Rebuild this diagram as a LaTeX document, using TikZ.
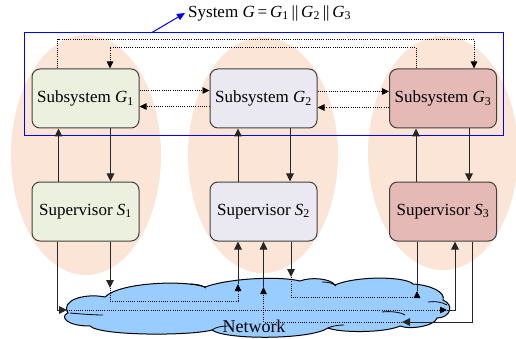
\documentclass[tikz,border=0pt]{standalone}
\usepackage{fontspec}
\setmainfont{Liberation Serif}
\usetikzlibrary{arrows.meta, positioning, calc}
\definecolor{peach}{RGB}{251,229,214}
\definecolor{subgreen}{RGB}{235,241,222}
\definecolor{sublilac}{RGB}{234,232,240}
\definecolor{subred}{RGB}{229,185,181}
\definecolor{netblue}{RGB}{153,204,255}
\definecolor{boxline}{RGB}{64,64,64}
\newcommand{\gsub}[2]{\textit{#1}\textsubscript{#2}}

\tikzset{
  subbox/.style={draw=boxline, line width=1pt, rounded corners=8pt, minimum width=107pt, minimum height=59pt, inner sep=1pt, font=\fontsize{17}{20}\selectfont},
  sigline/.style={line width=1pt, draw=black!85},
  sigarrow/.style={sigline, -{Triangle[length=8pt,width=7.5pt]}},
  dotline/.style={line width=0.8pt, dash pattern=on 1pt off 1.2pt},
  dotarrow/.style={dotline, -{Triangle[length=7pt,width=6.5pt]}},
}

\begin{document}
\begin{tikzpicture}[x=1pt, y=-1pt]
  \useasboundingbox (0,0) rectangle (516,339);

  % Groups
  \fill[peach] (86,155) ellipse [x radius=75pt, y radius=120pt];
  \fill[peach] (263,155) ellipse [x radius=75pt, y radius=118pt];
  \fill[peach] (443,153) ellipse [x radius=75pt, y radius=117pt];

  % System frame and title
  \node[draw=blue, line width=1pt, minimum width=479pt, minimum height=103pt, inner sep=0pt] (sys) at (263.5,84.5) {};
  \node[anchor=west, inner sep=3pt, font=\fontsize{17}{20}\selectfont] (title) at (185,13) {System \textit{G}\,=\,\gsub{G}{1}\,||\,\gsub{G}{2}\,||\,\gsub{G}{3}};
  \draw[blue, line width=1pt, -{Triangle[length=8pt,width=7pt]}] ([xshift=-111.5pt]sys.north) -- (title.west);

  % Network cloud
  \draw[line width=1pt, fill=netblue] (68,313) .. controls (60,300) and (85,293) .. (105,297)
    .. controls (120,282) and (185,280) .. (205,287)
    .. controls (230,278) and (280,276) .. (300,281)
    .. controls (310,277) and (330,278) .. (335,285)
    .. controls (355,276) and (405,276) .. (413,284)
    .. controls (430,285) and (446,292) .. (443,300)
    .. controls (455,305) and (450,318) .. (437,318)
    .. controls (435,326) and (410,330) .. (400,326)
    .. controls (385,333) and (340,333) .. (328,328)
    .. controls (310,340) and (225,340) .. (212,330)
    .. controls (190,336) and (100,336) .. (90,326)
    .. controls (65,326) and (60,316) .. (68,313) -- cycle;
  \draw[line width=0.8pt] (70,313) .. controls (80,314) and (95,315) .. (103,315);
  \draw[line width=0.8pt] (382,312) .. controls (390,311) and (400,312) .. (405,315);
  \draw[line width=0.8pt] (428,302) .. controls (435,301) and (442,302) .. (447,305);
  \draw[line width=0.8pt] (190,284) .. controls (196,284) and (202,285) .. (206,288);
  \draw[line width=0.8pt] (322,282) .. controls (328,282) and (333,283) .. (336,286);
  \draw[line width=0.8pt] (212,330) .. controls (216,327) and (222,326) .. (228,326);
  \draw[line width=0.8pt] (328,328) .. controls (332,326) and (338,325) .. (344,325);
  \node[font=\fontsize{18}{20}\selectfont] (net) at (254,326) {Network};

  % Subsystems
  \node[subbox, fill=subgreen] (g1) at (85.5,98.5) {Subsystem \gsub{G}{1}};
  \node[subbox, fill=sublilac] (g2) at (263.5,98.5) {Subsystem \gsub{G}{2}};
  \node[subbox, fill=subred] (g3) at (443,98.5) {Subsystem \gsub{G}{3}};

  % Supervisors
  \node[subbox, fill=subgreen] (s1) at (85.5,211.5) {Supervisor \gsub{S}{1}};
  \node[subbox, fill=sublilac] (s2) at (263.5,211.5) {Supervisor \gsub{S}{2}};
  \node[subbox, fill=subred] (s3) at (443,211.5) {Supervisor \gsub{S}{3}};

  % Plant <-> supervisor
  \draw[sigarrow] ([xshift=-27pt]s1.north) -- ([xshift=-27pt]g1.south);
  \draw[sigarrow] ([xshift=25pt]g1.south) -- ([xshift=25pt]s1.north);
  \draw[sigarrow] ([xshift=-25.5pt]s2.north) -- ([xshift=-25.5pt]g2.south);
  \draw[sigarrow] ([xshift=26.5pt]g2.south) -- ([xshift=26.5pt]s2.north);
  \draw[sigarrow] ([xshift=-27pt]s3.north) -- ([xshift=-27pt]g3.south);
  \draw[sigarrow] ([xshift=26pt]g3.south) -- ([xshift=26pt]s3.north);

  % Coupling between subsystems
  \draw[dotarrow] ([yshift=8pt]g1.east) -- ([yshift=8pt]g2.west);
  \draw[dotarrow] ([yshift=-8pt]g2.west) -- ([yshift=-8pt]g1.east);
  \draw[dotarrow] ([yshift=7pt]g2.east) -- ([yshift=7pt]g3.west);
  \draw[dotarrow] ([yshift=-9pt]g3.west) -- ([yshift=-9pt]g2.east);
  \draw[dotarrow] ([xshift=-28pt]g1.north) -- ++(0,-29) -| ([xshift=31pt]g3.north);
  \draw[dotarrow] ([xshift=-27pt]g3.north) -- ++(0,-21) -| ([xshift=24.5pt]g1.north);

  % Supervisor messages over the network
  \coordinate (in13) at (67,310);
  \coordinate (out13) at (447,310);
  \draw[sigarrow] ([xshift=-28pt]s1.south) |- (in13);
  \draw[dotarrow] (in13) -- (out13);
  \draw[sigarrow] (out13) -| ([xshift=12pt]s3.south);

  \coordinate (in12) at (110,288);
  \coordinate (out12) at (238,284);
  \draw[sigarrow] ([xshift=24.5pt]s1.south) -- (in12);
  \draw[dotarrow] (in12) -- ++(0,13) -| (out12);
  \draw[sigarrow] (out12) -- ([xshift=-25.5pt]s2.south);

  \coordinate (in23) at (291,277);
  \coordinate (out23) at (417,291);
  \draw[sigarrow] ([xshift=27.5pt]s2.south) -- (in23);
  \draw[dotarrow] (in23) -- ++(0,20) -| (out23);
  \draw[sigline] (out23) -- ([xshift=-26pt]s3.south);

  \coordinate (in32) at (402,322);
  \coordinate (out32) at (263.5,287);
  \draw[sigarrow] ([xshift=29pt]s3.south) |- (in32);
  \draw[dotarrow] (in32) -| (out32);
  \draw[sigarrow] (out32) -- (s2.south);
\end{tikzpicture}
\end{document}
